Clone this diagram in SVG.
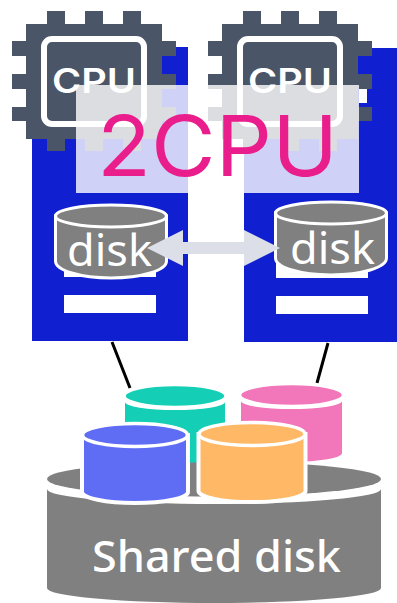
<svg xmlns="http://www.w3.org/2000/svg" width="397" height="603" viewBox="0 0 397 603">
<style>
.srv{fill:#101fd0}
.w{fill:#fff}
.chip{fill:#4a5568}
.inner{fill:none;stroke:#fff;stroke-width:6}
.cpu{font:600 34px "Inter",sans-serif;fill:#fff}
.dk{fill:#808080;stroke:#fff;stroke-width:3}
.dt{font:400 44px "Noto Sans",sans-serif;fill:#fff}
.gr{fill:#808080}
.el{stroke:#fff;stroke-width:3.5}
.out{stroke:#fff;stroke-width:4}
</style>
<defs>
<g id="chipShape">
<path class="chip" d="M47 11h18v13h20v-13h18v13h20v-13h18v13h21v17h14v15h-14v18h14v15h-14v18h14v14h-14v18h-21v12h-18v-12h-20v12h-18v-12h-20v12h-18v-12h-21v-18h-14v-14h14v-18h-14v-15h14v-18h-14v-15h14v-17h21z"/>
<rect class="inner" x="44" y="39" width="100" height="85" rx="8"/>
<text class="cpu" x="52" y="93" textLength="84" lengthAdjust="spacingAndGlyphs">CPU</text>
</g>
</defs>
<g id="server-left">
<rect class="srv" x="32" y="47" width="156" height="294"/>
<rect class="w" x="64" y="260" width="92" height="17"/>
<rect class="w" x="64" y="295" width="92" height="18"/>
</g>
<g id="server-right">
<rect class="srv" x="244" y="48" width="153" height="294"/>
<rect class="w" x="276" y="260" width="92" height="18"/>
<rect class="w" x="276" y="296" width="92" height="18"/>
<rect class="w" x="359" y="88" width="8" height="15"/>
</g>
<g id="cpu-left"><use href="#chipShape"/></g>
<g id="cpu-right"><use href="#chipShape" x="196"/></g>
<g id="overlay">
<rect x="76" y="85" width="283" height="108" fill="#fff" opacity=".8"/>
</g>
<g id="disk-left">
<path class="dk" d="M55.500 216V261A55.500 17 0 0 0 166.500 261V216Z"/>
<ellipse class="dk" cx="111" cy="216" rx="55.500" ry="11"/>
<text class="dt" x="67" y="266" textLength="85" lengthAdjust="spacingAndGlyphs">disk</text>
</g>
<g id="disk-right">
<path class="dk" d="M275.500 213V258A55.500 17 0 0 0 386.500 258V213Z"/>
<ellipse class="dk" cx="331" cy="213" rx="55.500" ry="11"/>
<text class="dt" x="290" y="264" textLength="85" lengthAdjust="spacingAndGlyphs">disk</text>
</g>
<g id="label-2cpu">
<text x="97" y="176" textLength="241" lengthAdjust="spacingAndGlyphs" font-family="Inter, sans-serif" font-size="84" fill="#e91e8c">2CPU</text>
</g>
<g id="connectors">
<path d="M147 248L183 230V242H244V230L280 248L244 266V254H183V266Z" fill="#dcdfe8"/>
<path d="M112 342L130 388M328 343L317 383" stroke="#000" stroke-width="3" fill="none"/>
</g>
<g id="shared-disk">
<path class="gr" d="M47 489A167 15 0 0 0 381 489V588A167 15 0 0 1 47 588Z"/>
<ellipse class="gr" cx="214" cy="479" rx="167" ry="17.500"/>
<text x="92" y="572" textLength="249" lengthAdjust="spacingAndGlyphs" font-family="Noto Sans, sans-serif" font-weight="500" font-size="44" fill="#fff">Shared disk</text>
</g>
<g id="cyl-teal">
<path fill="#14cfb5" d="M125 402A50 8 0 0 0 225 402V455A50 8 0 0 1 125 455Z"/>
<ellipse class="el" fill="#14cfb5" cx="175" cy="396" rx="51" ry="11.500"/>
</g>
<g id="cyl-pink">
<path fill="#f277ba" d="M241 401A50.500 8 0 0 0 342 401V453A50.500 9 0 0 1 241 453Z"/>
<ellipse class="el" fill="#f277ba" cx="291.500" cy="395" rx="52" ry="11.500"/>
</g>
<g id="cyl-blue">
<path class="out" fill="#5e6df4" d="M82 435V492A53 11 0 0 0 188 492V435Z"/>
<ellipse class="el" fill="#5e6df4" cx="135" cy="435" rx="52.500" ry="11.500"/>
</g>
<g id="cyl-orange">
<path class="out" fill="#ffb966" d="M198.500 434V491A53 11 0 0 0 305.500 491V434Z"/>
<ellipse class="el" fill="#ffb966" cx="252" cy="434" rx="53" ry="11.500"/>
</g>
</svg>
